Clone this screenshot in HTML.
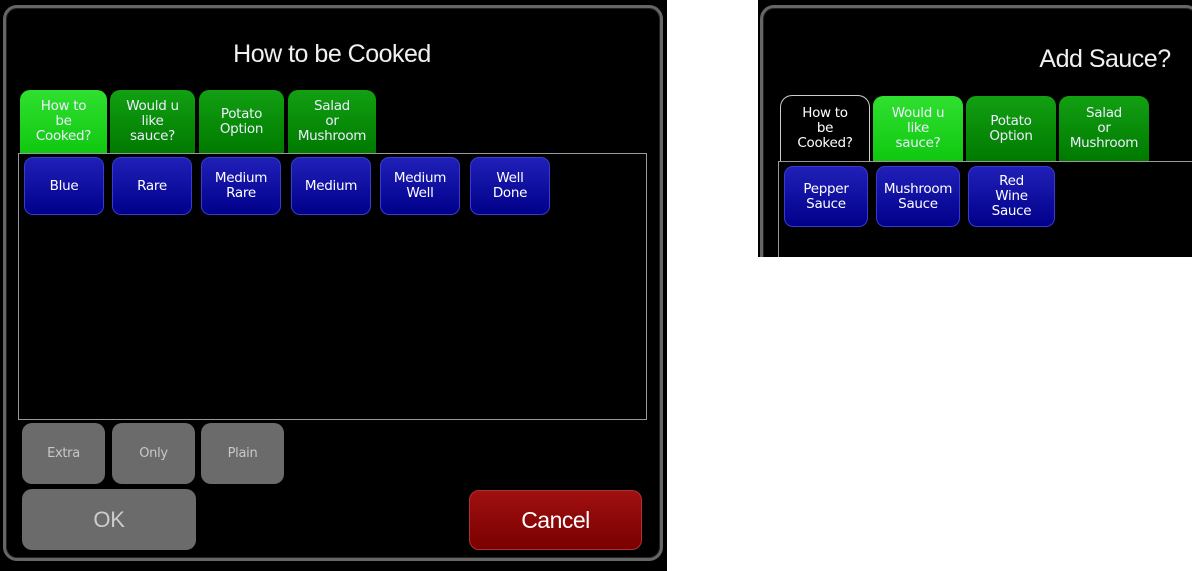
<!DOCTYPE html><html><head><style>
body{margin:0;width:1192px;height:571px;background:#fff;position:relative;overflow:hidden;font-family:"DejaVu Sans","Liberation Sans",sans-serif}
.a{position:absolute;box-sizing:border-box}
.frame{border:3px solid #666;border-radius:14px;background:#000;box-shadow:inset 0 0 0 1px #222}
.t{display:flex;align-items:center;justify-content:center;text-align:center;line-height:15px;font-size:13.5px;color:#fff;letter-spacing:-0.3px}
.tab{border-radius:10px 10px 0 0;background:linear-gradient(#12a012,#007a00);color:#eef;border-bottom:none}
.tab.on{background:linear-gradient(#30e030,#10c810)}
.btn{border-radius:9px;background:linear-gradient(#2020b8,#00008a);border:1px solid #3a3ad0;color:#fff}
.g{border-radius:10px;background:#6b6b6b;color:#c8c8c8;font-size:13px}
</style></head><body>
<div class="a" style="left:0;top:0;width:667px;height:571px;background:#000"></div>
<div class="a frame" style="left:3px;top:5px;width:660px;height:556px"></div>
<div class="a t" style="left:18px;top:36px;width:628px;height:36px;font-family:'Liberation Sans',sans-serif;font-size:25px;color:#f0f0f0;letter-spacing:-0.5px">How to be Cooked</div>
<div class="a t tab on" style="left:20px;top:90px;width:87px;height:63px">How to<br>be<br>Cooked?</div>
<div class="a t tab" style="left:110px;top:90px;width:85px;height:63px">Would u<br>like<br>sauce?</div>
<div class="a t tab" style="left:199px;top:90px;width:85px;height:63px">Potato<br>Option</div>
<div class="a t tab" style="left:288px;top:90px;width:88px;height:63px">Salad<br>or<br>Mushroom</div>
<div class="a" style="left:18px;top:153px;width:629px;height:267px;border:1px solid #999"></div>
<div class="a t btn" style="left:24px;top:157px;width:80px;height:58px">Blue</div>
<div class="a t btn" style="left:112px;top:157px;width:80px;height:58px">Rare</div>
<div class="a t btn" style="left:201px;top:157px;width:80px;height:58px">Medium<br>Rare</div>
<div class="a t btn" style="left:291px;top:157px;width:80px;height:58px">Medium</div>
<div class="a t btn" style="left:380px;top:157px;width:80px;height:58px">Medium<br>Well</div>
<div class="a t btn" style="left:470px;top:157px;width:80px;height:58px">Well<br>Done</div>
<div class="a t g" style="left:22px;top:423px;width:83px;height:61px">Extra</div>
<div class="a t g" style="left:112px;top:423px;width:83px;height:61px">Only</div>
<div class="a t g" style="left:201px;top:423px;width:83px;height:61px">Plain</div>
<div class="a t g" style="left:22px;top:489px;width:174px;height:61px;font-size:22px;font-family:'Liberation Sans',sans-serif;color:#ccc">OK</div>
<div class="a t" style="left:469px;top:490px;width:173px;height:60px;border-radius:10px;background:linear-gradient(#a01010,#7a0000);border:1px solid #b03030;font-size:23px;font-family:'Liberation Sans',sans-serif;letter-spacing:-0.5px">Cancel</div>

<div class="a" style="left:758px;top:0;width:434px;height:257px;background:#000"></div>
<div class="a frame" style="left:760px;top:5px;width:440px;height:270px"></div>
<div class="a t" style="left:1020px;top:42px;width:170px;height:34px;font-family:'Liberation Sans',sans-serif;font-size:25px;color:#f0f0f0;letter-spacing:-0.5px">Add Sauce?</div>
<div class="a t" style="left:780px;top:95px;width:90px;height:66px;border:1px solid #ccc;border-bottom:none;border-radius:12px 12px 0 0;background:#000">How to<br>be<br>Cooked?</div>
<div class="a t tab on" style="left:873px;top:96px;width:90px;height:65px">Would u<br>like<br>sauce?</div>
<div class="a t tab" style="left:966px;top:96px;width:90px;height:65px">Potato<br>Option</div>
<div class="a t tab" style="left:1059px;top:96px;width:90px;height:65px">Salad<br>or<br>Mushroom</div>
<div class="a" style="left:778px;top:161px;width:420px;height:110px;border:1px solid #999"></div>
<div class="a t btn" style="left:784px;top:166px;width:84px;height:61px">Pepper<br>Sauce</div>
<div class="a t btn" style="left:876px;top:166px;width:84px;height:61px">Mushroom<br>Sauce</div>
<div class="a t btn" style="left:968px;top:166px;width:87px;height:61px">Red<br>Wine<br>Sauce</div>
<div class="a" style="left:758px;top:257px;width:434px;height:20px;background:#fff"></div>
</body></html>
